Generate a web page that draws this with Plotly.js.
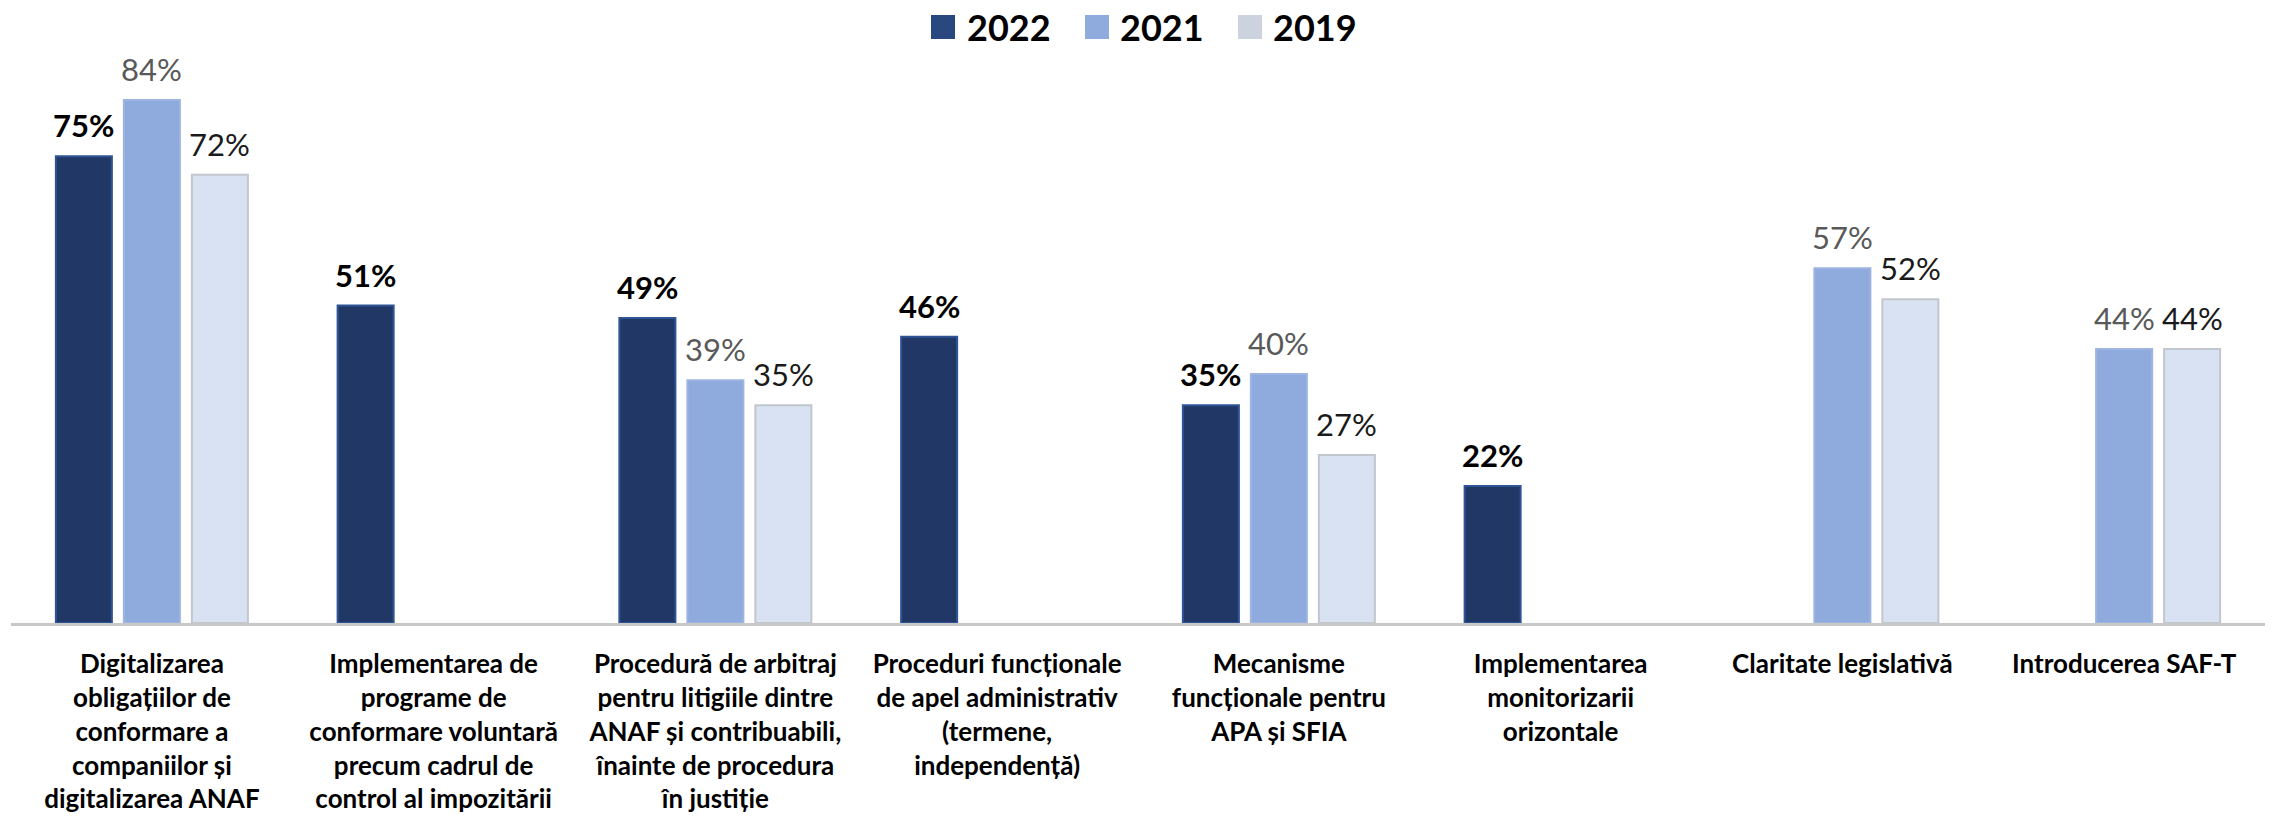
<!DOCTYPE html>
<html>
<head>
<meta charset="utf-8">
<script src="https://cdn.plot.ly/plotly-3.0.1.min.js"></script>
<style>html,body{margin:0;padding:0;background:#fff;}#chart{width:2272px;height:818px;}</style>
</head>
<body>
<div id="chart"></div>
<script>
const categories = [
  "Digitalizarea<br>obligațiilor de<br>conformare a<br>companiilor și<br>digitalizarea ANAF",
  "Implementarea de<br>programe de<br>conformare voluntară<br>precum cadrul de<br>control al impozitării",
  "Procedură de arbitraj<br>pentru litigiile dintre<br>ANAF și contribuabili,<br>înainte de procedura<br>în justiție",
  "Proceduri funcționale<br>de apel administrativ<br>(termene,<br>independență)",
  "Mecanisme<br>funcționale pentru<br>APA și SFIA",
  "Implementarea<br>monitorizarii<br>orizontale",
  "Claritate legislativă",
  "Introducerea SAF-T"
];
const seriesNames = ["2022", "2021", "2019"];
const v2022 = [75, 51, 49, 46, 35, 22, null, null];
const v2021 = [84, null, 39, null, 40, null, 57, 44];
const v2019 = [72, null, 35, null, 27, null, 52, 44];

const W = 2272, H = 818;
const ML = 11, MR = 7, MT = 60, MB = 195;
const PW = W - ML - MR, PH = H - MT - MB;
const PX_PER_PCT = 6.225;
const YMAX = PH / PX_PER_PCT;
const BARGAP = 0.276, BARGROUPGAP = 0.176;
const FONT = "Lato, 'Open Sans', sans-serif";

const series = [v2022, v2021, v2019];
const fills = ["#213867", "#8FAADC", "#D9E2F2"];
const edges = ["#2F5496", "#9DB5E0", "#C2C6CD"];
const legendFills = ["#2A4880", "#8FAADC", "#CDD3DE"];
const labelFonts = [
  {family: FONT, size: 31, color: "#000000", weight: 700},
  {family: FONT, size: 31, color: "#595959", weight: 400},
  {family: FONT, size: 31, color: "#1A1A1A", weight: 400}
];

const xs = categories.map((c, i) => i);
const traces = series.map((vals, s) => ({
  type: "bar",
  name: seriesNames[s],
  x: xs,
  y: vals,
  marker: {color: fills[s], line: {color: edges[s], width: 2}},
  hoverinfo: "skip",
  showlegend: false
}));

const pitch = PW / categories.length;
const slot = pitch * (1 - BARGAP) / series.length;

const annotations = [];
series.forEach((vals, s) => {
  vals.forEach((v, i) => {
    if (v === null) return;
    annotations.push({
      x: i, y: v, xref: "x", yref: "y",
      text: v + "%",
      showarrow: false,
      xanchor: "center", yanchor: "bottom",
      xshift: (s - 1) * slot,
      yshift: 10,
      font: labelFonts[s]
    });
  });
});

// custom legend
const shapes = [];
const legendSquares = [931, 1085, 1238];
const legendTexts = [965, 1118, 1271];
const toPX = px => (px - ML) / PW;
const toPY = py => (MT + PH - py) / PH;
seriesNames.forEach((n, s) => {
  shapes.push({
    type: "rect", xref: "paper", yref: "paper",
    x0: toPX(legendSquares[s]), x1: toPX(legendSquares[s] + 24),
    y0: toPY(39), y1: toPY(15),
    fillcolor: legendFills[s], line: {width: 0}
  });
  annotations.push({
    xref: "paper", yref: "paper",
    x: toPX(legendTexts[s]), y: toPY(27),
    xanchor: "left", yanchor: "middle",
    text: n, showarrow: false,
    font: {family: FONT, size: 36, color: "#000000", weight: 700}
  });
});

const layout = {
  width: W, height: H,
  margin: {l: ML, r: MR, t: MT, b: MB, pad: 0},
  paper_bgcolor: "#ffffff",
  plot_bgcolor: "#ffffff",
  barmode: "group",
  bargap: BARGAP,
  bargroupgap: BARGROUPGAP,
  showlegend: false,
  xaxis: {
    range: [-0.5, categories.length - 0.5],
    tickvals: xs,
    ticktext: categories,
    tickangle: 0,
    showline: true,
    linecolor: "#C8C8C8",
    linewidth: 3,
    ticks: "",
    showgrid: false,
    zeroline: false,
    ticklabelstandoff: 16,
    tickfont: {family: FONT, size: 26, color: "#000000", weight: 700}
  },
  yaxis: {
    range: [0, YMAX],
    visible: false,
    showgrid: false,
    zeroline: false
  },
  annotations: annotations,
  shapes: shapes
};

Plotly.newPlot("chart", traces, layout, {displayModeBar: false, staticPlot: true});
</script>
</body>
</html>
